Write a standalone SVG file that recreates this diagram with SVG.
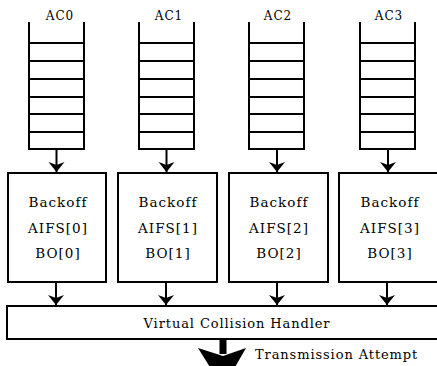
<svg xmlns="http://www.w3.org/2000/svg" width="437" height="366" viewBox="0 0 437 366">
<style>
.q{fill:none;stroke:#000;stroke-width:2}
.box{fill:#fff;stroke:#000;stroke-width:2}
.t{font-family:"DejaVu Serif","Liberation Serif",serif;font-size:13.5px;fill:#000;text-anchor:middle;letter-spacing:1px}
.lbl{font-family:"DejaVu Serif","Liberation Serif",serif;font-size:12px;fill:#000;text-anchor:middle;letter-spacing:1px}
.c{stroke:#000;stroke-width:2;fill:none}
</style>
<defs>
<marker id="ah" markerUnits="userSpaceOnUse" markerWidth="18" markerHeight="12" refX="8" refY="11" orient="0" viewBox="0 0 16 12">
<path d="M0,1 L8,4 L16,1 L8,11 Z" fill="#000"/>
</marker>
<g id="queue">
<path class="q" d="M0,22 V149 H55 V22"/>
<path class="q" d="M0,43 H55 M0,61 H55 M0,79 H55 M0,97 H55 M0,114 H55 M0,132 H55"/>
</g>
</defs>
<g id="ac0"><use href="#queue" x="29"/><text class="lbl" x="60" y="20">AC0</text></g>
<g id="ac1"><use href="#queue" x="139"/><text class="lbl" x="169" y="20">AC1</text></g>
<g id="ac2"><use href="#queue" x="249"/><text class="lbl" x="278" y="20">AC2</text></g>
<g id="ac3"><use href="#queue" x="360"/><text class="lbl" x="389" y="20">AC3</text></g>
<g id="backoff0"><rect class="box" x="8" y="173" width="98" height="109"/>
<text class="t" x="58" y="207">Backoff</text><text class="t" x="58" y="233">AIFS[0]</text><text class="t" x="58" y="258">BO[0]</text></g>
<g id="backoff1"><rect class="box" x="118" y="173" width="99" height="109"/>
<text class="t" x="168" y="207">Backoff</text><text class="t" x="168" y="233">AIFS[1]</text><text class="t" x="168" y="258">BO[1]</text></g>
<g id="backoff2"><rect class="box" x="229" y="173" width="99" height="109"/>
<text class="t" x="279" y="207">Backoff</text><text class="t" x="279" y="233">AIFS[2]</text><text class="t" x="279" y="258">BO[2]</text></g>
<g id="backoff3"><rect class="box" x="339" y="173" width="110" height="109"/>
<text class="t" x="390" y="207">Backoff</text><text class="t" x="390" y="233">AIFS[3]</text><text class="t" x="390" y="258">BO[3]</text></g>
<g id="handler"><rect class="box" x="7" y="306" width="445" height="33"/>
<text class="t" x="237" y="328" style="font-size:13px;letter-spacing:0.9px">Virtual Collision Handler</text></g>
<g id="connectors">
<path class="c" marker-end="url(#ah)" d="M56.5,149 V172"/>
<path class="c" marker-end="url(#ah)" d="M166.5,149 V172"/>
<path class="c" marker-end="url(#ah)" d="M277,149 V172"/>
<path class="c" marker-end="url(#ah)" d="M388,149 V172"/>
<path class="c" marker-end="url(#ah)" d="M56,282 V305"/>
<path class="c" marker-end="url(#ah)" d="M166,282 V305"/>
<path class="c" marker-end="url(#ah)" d="M277,282 V305"/>
<path class="c" marker-end="url(#ah)" d="M387,282 V305"/>
<path d="M219.5,339 V354 H226.5 V339 Z M198,348 L223,356 L246,348 L223,388 Z" fill="#000"/>
</g>
<text class="t" x="255" y="359" style="font-size:13px;text-anchor:start;letter-spacing:0.9px">Transmission Attempt</text>
</svg>
